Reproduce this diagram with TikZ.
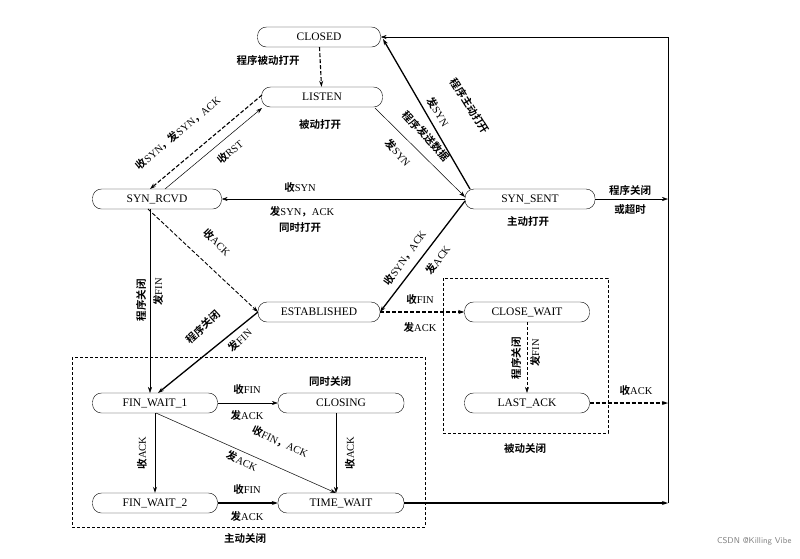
\documentclass[tikz,border=0pt]{standalone}
\usepackage{fontspec}
\setmainfont{Liberation Serif}
\newfontfamily\zhf{Noto Sans CJK SC}[BoldFont={Noto Sans CJK SC Bold}]
\newcommand{\zh}[1]{{\zhf\bfseries #1}}
\usetikzlibrary{arrows.meta}
\begin{document}
\begin{tikzpicture}[x=1pt,y=-1pt,
  st/.style={draw,rounded corners=9pt,minimum height=20pt,inner sep=1pt,font=\fontsize{11.5}{12}\selectfont},
  lb/.style={font=\fontsize{10.5}{11}\selectfont,inner sep=0pt},
  a/.style={-{Stealth[length=6pt,width=4pt]},line width=0.5pt},
  tk/.style={-{Stealth[length=6pt,width=4pt]},line width=1.3pt},
  ds/.style={-{Stealth[length=6pt,width=4pt]},line width=1.1pt,dash pattern=on 4pt off 2pt},
  box/.style={draw,dash pattern=on 3pt off 2pt,line width=0.5pt}]
\useasboundingbox (0,0) rectangle (800,558);
\node[st,minimum width=123pt] (closed) at (319,37) {CLOSED};
\node[st,minimum width=121pt] (listen) at (322,97) {LISTEN};
\node[st,minimum width=129pt] (rcvd) at (157,199) {SYN\_RCVD};
\node[st,minimum width=130pt] (sent) at (530,199) {SYN\_SENT};
\node[st,minimum width=122pt] (est) at (319,312) {ESTABLISHED};
\node[st,minimum width=125pt] (cw) at (527,312) {CLOSE\_WAIT};
\node[st,minimum width=125pt] (fw1) at (155,403) {FIN\_WAIT\_1};
\node[st,minimum width=126pt] (closing) at (341,403) {CLOSING};
\node[st,minimum width=125pt] (la) at (527,403) {LAST\_ACK};
\node[st,minimum width=125pt] (fw2) at (155,503) {FIN\_WAIT\_2};
\node[st,minimum width=126pt] (tw) at (341,503) {TIME\_WAIT};
\coordinate (rtop) at (668,37);
\coordinate (rsent) at (668,199);
\coordinate (rla) at (668,403);
\coordinate (rbot) at (668,503);
\draw[box] (72,357) rectangle (425,527);
\draw[box] (443,278) rectangle (608,433);
\draw[line width=0.6pt] (rbot) -- (rtop);
\draw[a] (rtop) -- (closed.east);
\draw[a] (sent.east) -- (rsent);
\draw[ds] (la.east) -- (rla);
\draw[tk] (tw.east) -- (rbot);
\draw[ds] (closed) -- (listen);
\node[lb] at (268,60) {\zh{程序被动打开}};
\draw[a] (165,189) -- (262,108);
\node[lb,rotate=40] at (230,152) {\zh{收}RST};
\draw[ds] (262,95) -- (150,189);
\node[lb,rotate=40] at (178,133) {\zh{收}SYN\zh{，发}SYN\zh{，}ACK};
\draw[a] (375,108) -- (465,197);
\node[lb,rotate=-48] at (426,136) {\zh{程序发送数据}};
\node[lb,rotate=-48] at (398,153) {\zh{发}SYN};
\draw[tk] (470,189) -- (383,39);
\node[lb,rotate=-58] at (470,106) {\zh{程序主动打开}};
\node[lb,rotate=-58] at (438,112) {\zh{发}SYN};
\draw[a] (465,199) -- (rcvd.east);
\node[lb] at (300,188) {\zh{收}SYN};
\node[lb] at (302,212) {\zh{发}SYN\zh{，}ACK};
\node[lb] at (300,228) {\zh{同时打开}};
\node[lb] at (320,125) {\zh{被动打开}};
\node[lb] at (528,222) {\zh{主动打开}};
\node[lb] at (630,190) {\zh{程序关闭}};
\node[lb] at (630,210) {\zh{或超时}};
\draw[ds,line width=0.9pt] (148,209) -- (258,312);
\node[lb,rotate=-45] at (217,242) {\zh{收}ACK};
\draw[tk] (465,201) -- (380,312);
\node[lb,rotate=55] at (405,258) {\zh{收}SYN\zh{，}ACK};
\node[lb,rotate=55] at (438,260) {\zh{发}ACK};
\draw[a] (150,209) -- (150,393);
\node[lb,rotate=90] at (141,300) {\zh{程序关闭}};
\node[lb,rotate=90] at (158,292) {\zh{发}FIN};
\draw[tk] (258,312) -- (158,393);
\node[lb,rotate=43] at (203,327) {\zh{程序关闭}};
\node[lb,rotate=43] at (240,340) {\zh{发}FIN};
\draw[ds] (est.east) -- (cw.west);
\node[lb] at (420,300) {\zh{收}FIN};
\node[lb] at (420,327) {\zh{发}ACK};
\draw[a,dash pattern=on 3pt off 2pt] (cw) -- (la);
\node[lb,rotate=90] at (516,358) {\zh{程序关闭}};
\node[lb,rotate=90] at (535,353) {\zh{发}FIN};
\node[lb] at (636,391) {\zh{收}ACK};
\draw[a] (fw1) -- (closing);
\node[lb] at (247,390) {\zh{收}FIN};
\node[lb] at (247,415) {\zh{发}ACK};
\draw[tk,line width=1pt] (fw1) -- (fw2);
\node[lb,rotate=90] at (142,453) {\zh{收}ACK};
\draw[a] (156,413) -- (336,493);
\node[lb,rotate=-25] at (280,442) {\zh{收}FIN\zh{，}ACK};
\node[lb,rotate=-25] at (242,461) {\zh{发}ACK};
\draw[a] (336,413) -- (336,493);
\node[lb,rotate=90] at (350,453) {\zh{收}ACK};
\draw[tk] (fw2) -- (tw);
\node[lb] at (247,490) {\zh{收}FIN};
\node[lb] at (247,516) {\zh{发}ACK};
\node[lb] at (330,382) {\zh{同时关闭}};
\node[lb] at (525,448) {\zh{被动关闭}};
\node[lb] at (245,538) {\zh{主动关闭}};
\node[font=\sffamily\fontsize{8.5}{9}\selectfont,text=gray,anchor=east] at (795,541) {CSDN @Killing Vibe};
\end{tikzpicture}
\end{document}
